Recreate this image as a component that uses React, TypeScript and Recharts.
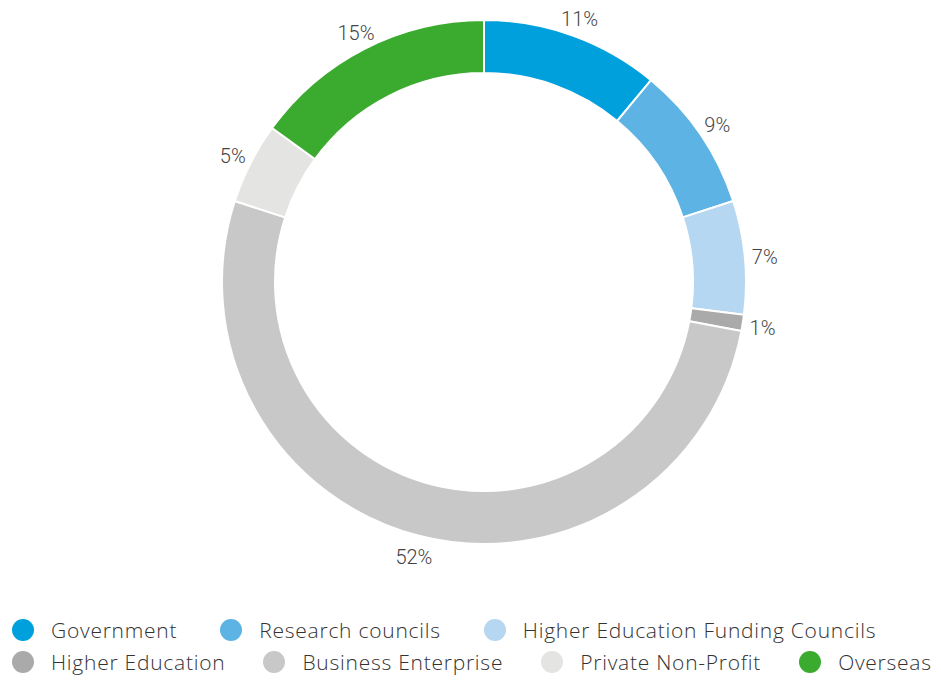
import React from 'react';
import { PieChart, Pie, Cell, Legend } from 'recharts';

const categories = [
  'Government',
  'Research councils',
  'Higher Education Funding Councils',
  'Higher Education',
  'Business Enterprise',
  'Private Non-Profit',
  'Overseas',
];
const shares = [11, 9, 7, 1, 52, 5, 15];
const colors = ['#00A0DD', '#5DB3E3', '#B6D7F1', '#AAAAAA', '#C8C8C8', '#E4E4E2', '#3BAB2F'];

// legend is split into two rows like the original
const legendRows = [
  [0, 1, 2],
  [3, 4, 5, 6],
];
const rowGaps = [43, 38];

const data = categories.map((name, i) => ({ name, value: shares[i] }));

const RADIAN = Math.PI / 180;

const renderLabel = (props: any) => {
  const { cx, cy, midAngle, outerRadius, value } = props;
  const r = outerRadius + 20;
  const x = cx + r * Math.cos(-midAngle * RADIAN);
  const y = cy + r * Math.sin(-midAngle * RADIAN) + 2;
  return (
    <text
      x={x}
      y={y}
      fill="#444"
      textAnchor="middle"
      dominantBaseline="central"
      style={{ fontFamily: 'Roboto, sans-serif', fontWeight: 300, fontSize: 20 }}
    >
      {value}%
    </text>
  );
};

const renderLegend = () => (
  <div
    style={{
      fontFamily: '"Open Sans", sans-serif',
      fontWeight: 300,
      fontSize: 21,
      letterSpacing: 0.75,
      color: '#333',
      whiteSpace: 'nowrap',
    }}
  >
    {legendRows.map((row, ri) => (
      <div key={ri} style={{ display: 'flex', alignItems: 'center', height: 32 }}>
        {row.map((idx, j) => (
          <div
            key={idx}
            style={{
              display: 'flex',
              alignItems: 'center',
              flexShrink: 0,
              marginRight: j === row.length - 1 ? 0 : rowGaps[ri],
            }}
          >
            <span
              style={{
                display: 'inline-block',
                flexShrink: 0,
                width: 22,
                height: 22,
                borderRadius: '50%',
                background: colors[idx],
                marginRight: 17,
              }}
            />
            <span>{categories[idx]}</span>
          </div>
        ))}
      </div>
    ))}
  </div>
);

export default function App() {
  return (
    <PieChart width={933} height={672}>
      <Pie
        data={data}
        dataKey="value"
        nameKey="name"
        cx={471}
        cy={269}
        innerRadius={209}
        outerRadius={262}
        startAngle={90}
        endAngle={-270}
        stroke="#fff"
        strokeWidth={2}
        label={renderLabel}
        labelLine={false}
        isAnimationActive={false}
      >
        {data.map((d, i) => (
          <Cell key={d.name} fill={colors[i]} />
        ))}
      </Pie>
      <Legend
        content={renderLegend}
        wrapperStyle={{ position: 'absolute', top: 606, left: 4, width: 929 }}
      />
    </PieChart>
  );
}
